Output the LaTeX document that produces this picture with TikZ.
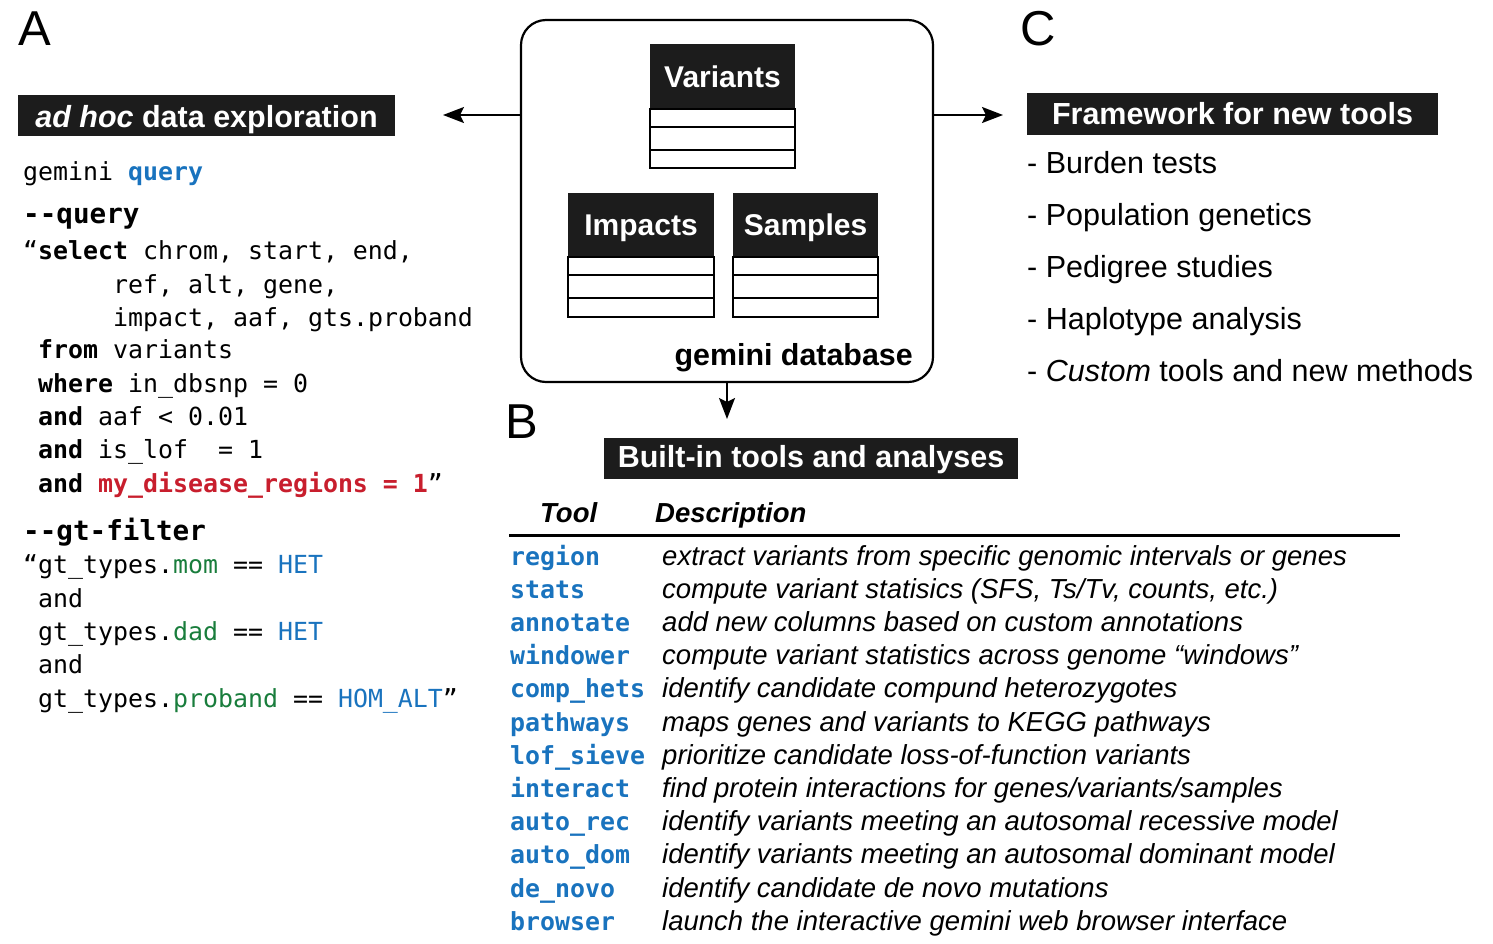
\documentclass[tikz,border=0pt]{standalone}
\usepackage{fontspec}
\setmainfont{Liberation Sans}
\setmonofont{DejaVu Sans Mono}
\usetikzlibrary{arrows.meta}
\definecolor{qblue}{RGB}{25,115,190}
\definecolor{qred}{RGB}{200,30,45}
\definecolor{qgreen}{RGB}{25,125,60}
\definecolor{boxblack}{RGB}{28,28,28}
\newcommand\fsz[1]{\fontsize{#1pt}{#1pt}\selectfont}
\begin{document}
\begin{tikzpicture}[x=1pt,y=-1pt,
  code/.style={anchor=base west, inner sep=0pt, font=\ttfamily\fsz{24.9}},
  codehd/.style={anchor=base west, inner sep=0pt, font=\ttfamily\bfseries\fsz{27.6}},
  hdr/.style={anchor=base, fill=boxblack, text=white, inner sep=0pt, font=\bfseries\fsz{30.5}},
  thead/.style={fill=boxblack, text=white, inner sep=0pt, text height=21.5pt, text depth=0pt, font=\bfseries\fsz{30}},
  tbody/.style={draw, line width=2pt, inner sep=0pt},
  tline/.style={line width=2pt},
  arr/.style={line width=2pt, -{Stealth[length=21pt,width=16pt,inset=4pt]}},
  panel/.style={anchor=base west, inner sep=0pt, font=\fsz{49}},
  item/.style={anchor=base west, inner sep=0pt, font=\fsz{30.5}},
  tool/.style={anchor=base west, inner sep=0pt, font=\ttfamily\bfseries\fsz{24.9}, text=qblue},
  desc/.style={anchor=base west, inner sep=0pt, font=\itshape\fsz{27.5}},
  thd/.style={anchor=base west, inner sep=0pt, font=\bfseries\itshape\fsz{27.5}}
]
\useasboundingbox (0,0) rectangle (1493,943);

% panel letters
\node[panel] (pA) at (18,45) {A};
\node[panel] (pB) at (505,438) {B};
\node[panel] (pC) at (1020,45) {C};

% database
\node[draw, line width=2.2pt, rounded corners=25pt, minimum width=412, minimum height=362, inner sep=0pt] (db) at (727,201) {};
\node[thead, minimum width=145, minimum height=65] (varH) at (722.5,76.5) {Variants};
\node[tbody, minimum width=145, minimum height=59] (varB) at (722.5,138.5) {};
\draw[tline] (650,127) -- (795,127);
\draw[tline] (650,150) -- (795,150);
\node[thead, minimum width=146, minimum height=64] (impH) at (641,225) {Impacts};
\node[tbody, minimum width=146, minimum height=60] (impB) at (641,287) {};
\draw[tline] (568,275) -- (714,275);
\draw[tline] (568,298) -- (714,298);
\node[thead, minimum width=145, minimum height=64] (smpH) at (805.5,225) {Samples};
\node[tbody, minimum width=145, minimum height=60] (smpB) at (805.5,287) {};
\draw[tline] (733,275) -- (878,275);
\draw[tline] (733,298) -- (878,298);
\node[anchor=base east, inner sep=0pt, font=\bfseries\fsz{30.4}] (dbname) at (913,365) {gemini database};

% headers
\node[hdr, minimum width=377, text height=32pt, text depth=9pt] (adhoc) at (206.5,127) {{\itshape ad hoc} data exploration};
\node[hdr, minimum width=411, text height=31pt, text depth=11pt] (frame) at (1232.5,124) {Framework for new tools};
\node[hdr, minimum width=414, text height=29pt, text depth=12pt] (builtin) at (811,467) {Built-in tools and analyses};

% arrows
\coordinate (aL) at (443,115);
\coordinate (aR) at (1003,115);
\coordinate (aD) at (727,419);
\draw[arr] (db.west |- aL) -- (aL);
\draw[arr] (db.east |- aR) -- (aR);
\draw[arr] (db.south) -- (aD);

% panel A code
\node[code] (l1) at (23,180) {gemini {\bfseries\color{qblue}query}};
\node[codehd] (l2) at (23,223) {--query};
\node[code] (l3) at (23,259) {“{\bfseries select} chrom, start, end,};
\node[code] (l4) at (113,293) {ref, alt, gene,};
\node[code] (l5) at (113,326) {impact, aaf, gts.proband};
\node[code] (l6) at (38,358) {{\bfseries from} variants};
\node[code] (l7) at (38,392) {{\bfseries where} in\_dbsnp = 0};
\node[code] (l8) at (38,425) {{\bfseries and} aaf < 0.01};
\node[code] (l9) at (38,458) {{\bfseries and} is\_lof\ \ = 1};
\node[code] (l10) at (38,492) {{\bfseries and {\color{qred}my\_disease\_regions = 1}}”};
\node[codehd] (l11) at (23,540) {--gt-filter};
\node[code] (l12) at (23,573) {“gt\_types.{\color{qgreen}mom} == {\color{qblue}HET}};
\node[code] (l13) at (38,607) {and};
\node[code] (l14) at (38,640) {gt\_types.{\color{qgreen}dad} == {\color{qblue}HET}};
\node[code] (l15) at (38,673) {and};
\node[code] (l16) at (38,707) {gt\_types.{\color{qgreen}proband} == {\color{qblue}HOM\_ALT}”};

% panel C list
\node[item] (c1) at (1027,173) {- Burden tests};
\node[item] (c2) at (1027,225) {- Population genetics};
\node[item] (c3) at (1027,277) {- Pedigree studies};
\node[item] (c4) at (1027,329) {- Haplotype analysis};
\node[item] (c5) at (1027,381) {- {\itshape Custom} tools and new methods};

% panel B table
\node[thd] (thTool) at (540,522) {Tool};
\node[thd] (thDesc) at (655,522) {Description};
\draw[line width=3pt] (509,535) -- (1400,535);

\node[tool] (t1) at (510,565) {region};
\node[desc] (d1) at (662,565) {extract variants from specific genomic intervals or genes};
\node[tool] (t2) at (510,598.2) {stats};
\node[desc] (d2) at (662,598.2) {compute variant statisics (SFS, Ts/Tv, counts, etc.)};
\node[tool] (t3) at (510,631.4) {annotate};
\node[desc] (d3) at (662,631.4) {add new columns based on custom annotations};
\node[tool] (t4) at (510,664.6) {windower};
\node[desc] (d4) at (662,664.6) {compute variant statistics across genome “windows”};
\node[tool] (t5) at (510,697.8) {comp\_hets};
\node[desc] (d5) at (662,697.8) {identify candidate compund heterozygotes};
\node[tool] (t6) at (510,731) {pathways};
\node[desc] (d6) at (662,731) {maps genes and variants to KEGG pathways};
\node[tool] (t7) at (510,764.2) {lof\_sieve};
\node[desc] (d7) at (662,764.2) {prioritize candidate loss-of-function variants};
\node[tool] (t8) at (510,797.4) {interact};
\node[desc] (d8) at (662,797.4) {find protein interactions for genes/variants/samples};
\node[tool] (t9) at (510,830.6) {auto\_rec};
\node[desc] (d9) at (662,830.6) {identify variants meeting an autosomal recessive model};
\node[tool] (t10) at (510,863.8) {auto\_dom};
\node[desc] (d10) at (662,863.8) {identify variants meeting an autosomal dominant model};
\node[tool] (t11) at (510,897) {de\_novo};
\node[desc] (d11) at (662,897) {identify candidate de novo mutations};
\node[tool] (t12) at (510,930.2) {browser};
\node[desc] (d12) at (662,930.2) {launch the interactive gemini web browser interface};
\end{tikzpicture}
\end{document}
